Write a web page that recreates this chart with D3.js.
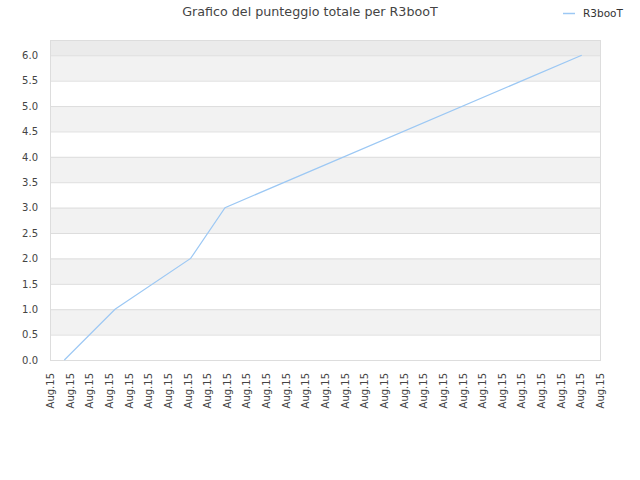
<!DOCTYPE html>
<html>
<head>
<meta charset="utf-8">
<script src="https://cdn.jsdelivr.net/npm/d3@7"></script>
<style>
  body { margin: 0; background: #fff; }
  text { font-family: "DejaVu Sans", sans-serif; }
</style>
</head>
<body>
<div id="chart"></div>
<script>
// chart data
const seriesName = "R3booT";
const tickLabels = Array(29).fill("Aug.15");
// point positions measured in tick slots (0 = first Aug.15 label)
const pointPos = [0.73, 3.31, 7.16, 8.91, 27.07];
const pointVal = [0, 1, 2, 3, 6];
const yTicks = [0, 0.5, 1, 1.5, 2, 2.5, 3, 3.5, 4, 4.5, 5, 5.5, 6];

const width = 640, height = 480;
const margin = {top: 40, right: 40, bottom: 120, left: 50};
const plotW = width - margin.left - margin.right;
const plotH = height - margin.top - margin.bottom;

let svg = d3.select("#chart")
  .append("svg")
  .attr("width", width)
  .attr("height", height);

let g = svg.append("g")
  .attr("transform", `translate(${margin.left}, ${margin.top})`);

let x = d3.scaleLinear()
  .domain([0, tickLabels.length - 1])
  .range([0, plotW]);

let y = d3.scaleLinear()
  .domain([0, 6.3])
  .range([plotH, 0]);

// background bands
g.append("rect")
  .attr("x", 0).attr("y", 0)
  .attr("width", plotW).attr("height", y(6))
  .attr("fill", "#ebebeb");

let bands = d3.range(0, 6, 0.5).filter((d, i) => i % 2 == 1);
g.selectAll("rect.band")
  .data(bands)
  .enter()
  .append("rect")
  .attr("class", "band")
  .attr("x", 0)
  .attr("y", d => y(d + 0.5))
  .attr("width", plotW)
  .attr("height", d => y(d) - y(d + 0.5))
  .attr("fill", "#f2f2f2");

// grid lines
g.selectAll("line.grid")
  .data(yTicks)
  .enter()
  .append("line")
  .attr("class", "grid")
  .attr("x1", 0).attr("x2", plotW)
  .attr("y1", d => y(d) + 0.5).attr("y2", d => y(d) + 0.5)
  .attr("stroke", "#dddddd");

// border
g.append("rect")
  .attr("x", 0.5).attr("y", 0.5)
  .attr("width", plotW).attr("height", plotH)
  .attr("fill", "none")
  .attr("stroke", "#dddddd");

// y axis
let yAxis = g.append("g")
  .call(d3.axisLeft(y).tickValues(yTicks).tickFormat(d3.format(".1f")).tickSize(0).tickPadding(12));
yAxis.select(".domain").remove();
yAxis.selectAll("text")
  .style("font-size", "10px")
  .style("font-family", "DejaVu Sans")
  .attr("fill", "#444");

// x axis
let xAxis = g.append("g")
  .attr("transform", `translate(0, ${plotH})`)
  .call(d3.axisBottom(x).tickValues(d3.range(tickLabels.length)).tickFormat(i => tickLabels[i]).tickSize(0));
xAxis.select(".domain").remove();
xAxis.selectAll("text")
  .style("font-size", "10px")
  .style("font-family", "DejaVu Sans")
  .attr("fill", "#444")
  .attr("text-anchor", "end")
  .attr("transform", "rotate(-90)")
  .attr("x", -13)
  .attr("y", 0)
  .attr("dy", "0.35em");

// the line
let points = pointPos.map((p, i) => ({pos: p, val: pointVal[i]}));
g.append("path")
  .datum(points)
  .attr("fill", "none")
  .attr("stroke", "#9cc8f4")
  .attr("stroke-width", 1.2)
  .attr("d", d3.line()
    .x(d => x(d.pos))
    .y(d => y(d.val)));

// title
svg.append("text")
  .attr("x", 310)
  .attr("y", 16)
  .attr("text-anchor", "middle")
  .style("font-size", "12.7px")
  .attr("fill", "#444")
  .text("Grafico del punteggio totale per " + seriesName);

// legend
svg.append("line")
  .attr("x1", 563).attr("x2", 575)
  .attr("y1", 13.5).attr("y2", 13.5)
  .attr("stroke", "#9cc8f4")
  .attr("stroke-width", 1.5);
svg.append("text")
  .attr("x", 583)
  .attr("y", 17)
  .style("font-size", "10.5px")
  .attr("fill", "#333")
  .text(seriesName);
</script>
</body>
</html>
